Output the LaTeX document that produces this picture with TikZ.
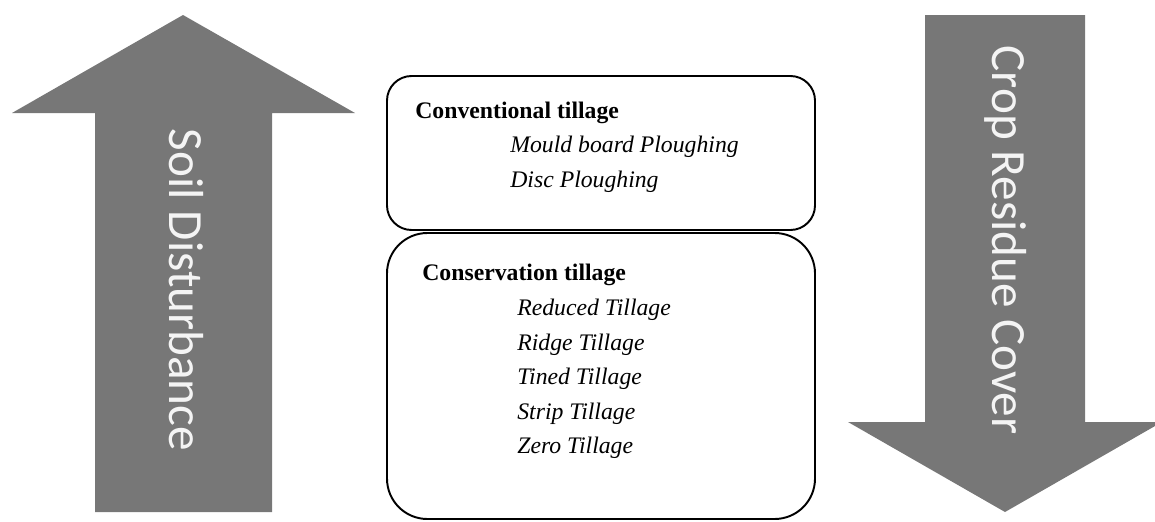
\documentclass[tikz,border=0pt]{standalone}
\usepackage{fontspec}
\setmainfont{Liberation Serif}
\newfontfamily\arrowfont{Carlito}
\usetikzlibrary{calc}
\definecolor{arrowgray}{HTML}{777777}
\definecolor{arrowtext}{HTML}{F4F4F4}
\newcommand\boxsize{\fontsize{13.5}{16}\selectfont}

\begin{document}
\begin{tikzpicture}[x=0.02cm,y=-0.02cm,
  bigarrow/.style={fill=arrowgray},
  arrowlabel/.style={rotate=-90,text=arrowtext,font=\arrowfont\fontsize{28}{30}\selectfont},
  tillbox/.style={draw=black,line width=1.1pt},
  boxhead/.style={anchor=base west,inner sep=0pt,font=\boxsize\bfseries},
  boxitem/.style={anchor=base west,inner sep=0pt,font=\boxsize\itshape}]
  \useasboundingbox (0,0) rectangle (1155,521);
  \clip (0,0) rectangle (1155,521);
  % up arrow: soil disturbance
  \fill[bigarrow] (95,512) -- (95,113) -- (12,113) -- (183,15) -- (355,113) -- (272,113) -- (272,512) -- cycle;
  \node[arrowlabel] (soil) at (186,290) {Soil Disturbance};
  % down arrow: crop residue cover
  \fill[bigarrow] (925,15) -- (1085,15) -- (1085,422) -- (1162,422) -- (1005,512) -- (848,422) -- (925,422) -- cycle;
  \node[arrowlabel] (crop) at (1006,240) {Crop Residue Cover};
  % the two tillage boxes
  \draw[tillbox,rounded corners=14pt] (387,76) rectangle (815,230);
  \draw[tillbox,rounded corners=23pt] (387,233) rectangle (815,519);
  \node[boxhead] (convhead) at (415,118) {Conventional tillage};
  \foreach \t [count=\i] in {Mould board Ploughing,Disc Ploughing}
    \node[boxitem] (conv\i) at (510,{117+35*\i}) {\t};
  \node[boxhead] (conshead) at (422,280) {Conservation tillage};
  \foreach \t [count=\i] in {Reduced Tillage,Ridge Tillage,Tined Tillage,Strip Tillage,Zero Tillage}
    \node[boxitem] (cons\i) at (517,{281.4+34.4*\i}) {\t};
\end{tikzpicture}
\end{document}
